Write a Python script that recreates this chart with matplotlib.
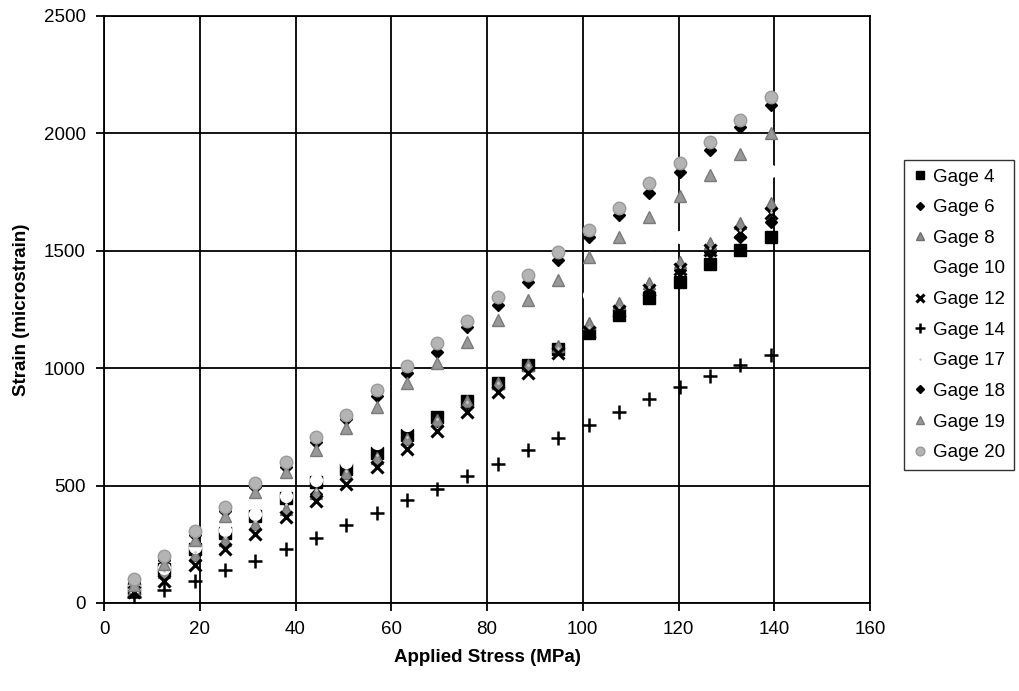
import numpy as np
import matplotlib
matplotlib.use("Agg")
import matplotlib.pyplot as plt

plt.rcParams['font.family'] = ['Liberation Sans', 'DejaVu Sans']

#Applied stress steps (MPa)
stress = [6.3, 12.6, 19.0, 25.3, 31.6, 38.0, 44.3, 50.6, 57.0, 63.3, 69.6,
          75.9, 82.3, 88.6, 94.9, 101.3, 107.6, 113.9, 120.3, 126.6, 132.9, 139.3]

#Strain readings (microstrain) per gage
gage4 = [60, 145, 230, 300, 370, 445, 515, 570, 640, 715, 790,
         862, 938, 1015, 1080, 1150, 1228, 1297, 1368, 1443, 1502, 1560]
gage6 = [55, 140, 225, 295, 365, 440, 462, 555, 625, 700, 775,
         850, 930, 1005, 1082, 1168, 1257, 1325, 1418, 1495, 1559, 1623]
gage8 = [60, 130, 205, 270, 335, 400, 470, 554, 617, 700, 780,
         860, 935, 1015, 1095, 1193, 1278, 1363, 1452, 1533, 1618, 1704]
gage10 = [70, 150, 240, 310, 380, 455, 522, 600, 680, 760, 850,
          940, 1040, 1130, 1220, 1310, 1400, 1470, 1560, 1660, 1750, 1840]
gage12 = [45, 95, 163, 230, 292, 366, 435, 505, 577, 655, 733,
          815, 897, 978, 1065, 1155, 1245, 1335, 1422, 1502, 1580, 1661]
gage14 = [25, 55, 95, 140, 180, 228, 277, 332, 385, 437, 487,
          540, 593, 650, 702, 757, 812, 867, 918, 965, 1012, 1058]
gage17 = [58, 135, 215, 283, 350, 420, 480, 560, 630, 705, 783,
          858, 935, 1012, 1088, 1175, 1262, 1345, 1432, 1512, 1590, 1665]
gage18 = [88, 185, 290, 390, 495, 580, 685, 782, 882, 980, 1069,
          1175, 1269, 1367, 1461, 1557, 1652, 1746, 1836, 1929, 2027, 2121]
gage19 = [75, 165, 270, 370, 472, 558, 652, 745, 835, 937, 1022,
          1112, 1205, 1290, 1376, 1474, 1559, 1644, 1733, 1823, 1912, 2002]
gage20 = [100, 202, 308, 407, 512, 600, 706, 801, 906, 1008, 1106,
          1203, 1302, 1396, 1495, 1590, 1682, 1787, 1872, 1962, 2056, 2153]

fig = plt.figure(figsize=(10.2, 6.91), dpi=100)
ax = fig.add_axes([0.102, 0.1274, 0.751, 0.8495])

ax.plot(stress, gage4, ls='none', marker='s', ms=8.5, mfc='black', mec='black', label='Gage 4')
ax.plot(stress, gage6, ls='none', marker='D', ms=6.5, mfc='black', mec='black', label='Gage 6')
ax.plot(stress, gage8, ls='none', marker='^', ms=8, mfc='#8c8c8c', mec='#6e6e6e', label='Gage 8')
ax.plot(stress, gage10, ls='none', marker='o', ms=8.5, mfc='white', mec='white', label='Gage 10')
ax.plot(stress, gage12, ls='none', marker='x', ms=9, mew=2.2, color='black', label='Gage 12')
ax.plot(stress, gage14, ls='none', marker='+', ms=10, mew=1.8, color='black', label='Gage 14')
ax.plot(stress, gage17, ls='none', marker='.', ms=2, color='#c8c8c8', label='Gage 17')
ax.plot(stress, gage18, ls='none', marker='D', ms=6.5, mfc='black', mec='black', label='Gage 18')
ax.plot(stress, gage19, ls='none', marker='^', ms=8, mfc='#999999', mec='#7a7a7a', label='Gage 19')
ax.plot(stress, gage20, ls='none', marker='o', ms=9, mfc='#b4b4b4', mec='#9a9a9a', label='Gage 20')

ax.set_xlim(0, 160)
ax.set_ylim(0, 2500)
ax.set_xticks(np.arange(0, 161, 20))
ax.set_yticks(np.arange(0, 2501, 500))
ax.grid(True, color='black', linewidth=1.3)
ax.set_axisbelow(True)
for s in ax.spines.values():
    s.set_linewidth(1.3)
ax.tick_params(direction='out', length=6, width=1.3, labelsize=13.5, pad=7)

ax.set_xlabel("Applied Stress (MPa)", fontsize=13.5, fontweight='bold', labelpad=8)
ax.set_ylabel("Strain (microstrain)", fontsize=13.5, fontweight='bold', labelpad=10)

leg = ax.legend(loc='upper left', bbox_to_anchor=(904/1020, 1-160/691), bbox_transform=fig.transFigure,
                borderaxespad=0, fontsize=13.5, frameon=True, fancybox=False, edgecolor='black',
                markerscale=0.7, handlelength=0.8, handletextpad=0.3, labelspacing=0.72,
                borderpad=0.45)
leg.get_frame().set_linewidth(1.0)

fig.savefig("out.png", dpi=100)
